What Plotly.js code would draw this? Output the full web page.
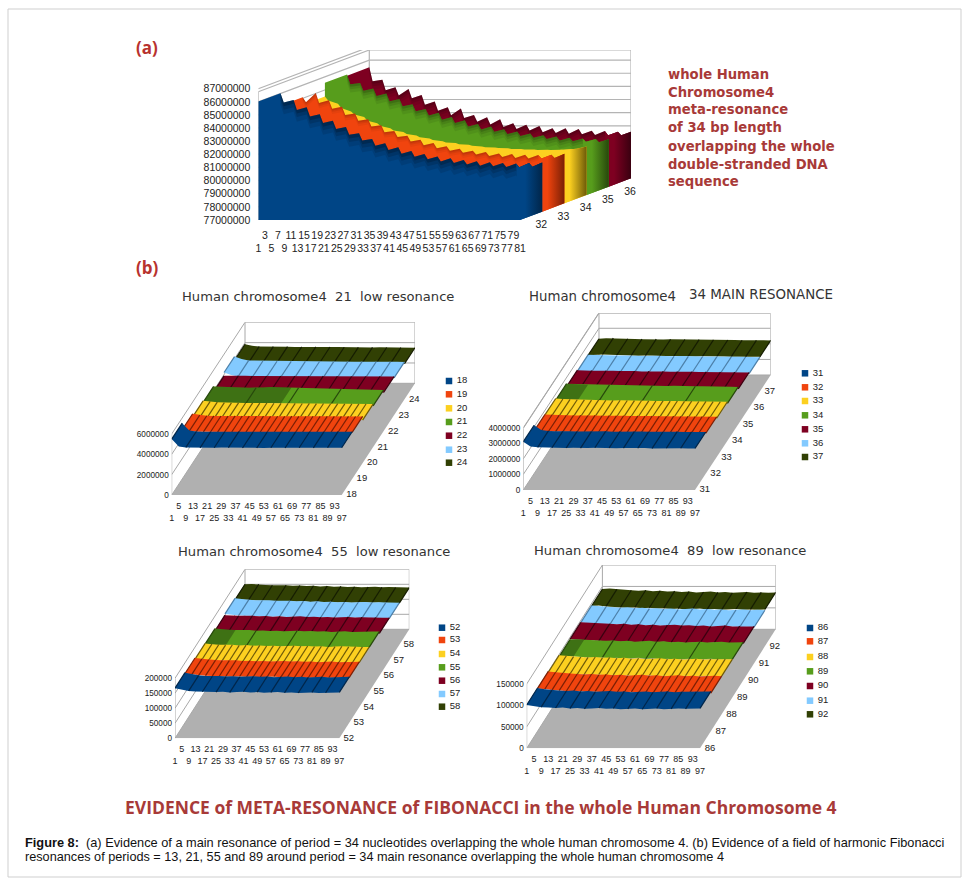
<!DOCTYPE html>
<html><head><meta charset="utf-8">
<script src="https://cdn.plot.ly/plotly-3.0.1.min.js"></script>
<style>html,body{margin:0;padding:0;background:#fff}#g{width:966px;height:882px}</style>
</head><body><div id="g"></div>
<script>
// ---------- DATA ----------
const categoriesA = [1,2,5,6,9,10,13,14,17,18,21,22,25,26,29,30,33,34,37,38,41,42,45,46,49,50,53,54,57,58,61,62,65,66,69,70,73,74,77,78,81];
const periodsA = [32,33,34,35,36];
const s32 = [86.02,85.31,85.5,84.75,84.95,84.25,84.42,83.75,83.93,83.3,83.45,82.85,82.97,82.42,82.54,82.02,82.21,81.7,81.9,81.42,81.62,81.18,81.4,81.0,81.2,80.82,81.07,80.7,80.94,80.6,80.84,80.5,80.76,80.45,80.7,80.4,80.66,80.38,80.7,80.42,80.74];
const s33 = [85.08,84.7,85.4,84.65,84.85,84.2,84.35,83.72,83.85,83.28,83.4,82.85,82.95,82.42,82.5,82.05,82.15,81.7,81.85,81.42,81.6,81.2,81.35,81.0,81.15,80.85,81.0,80.72,80.9,80.6,80.8,80.52,80.75,80.45,80.7,80.42,80.68,80.42,80.7,80.45,80.78];
const s34 = [84.5,84.2,83.94,83.62,83.36,83.12,82.93,82.66,82.47,82.25,82.09,81.92,81.79,81.64,81.53,81.4,81.3,81.18,81.1,81.0,80.95,80.86,80.82,80.74,80.7,80.64,80.62,80.57,80.55,80.5,80.5,80.46,80.47,80.43,80.45,80.42,80.45,80.44,80.5,80.52,80.7];
const s35 = [85.55,84.8,84.9,84.3,84.47,83.9,84.09,83.5,83.68,83.12,83.28,82.75,82.92,82.42,82.62,82.1,82.31,81.85,82.06,81.58,81.78,81.36,81.58,81.18,81.38,81.0,81.2,80.85,81.05,80.72,80.92,80.62,80.82,80.52,80.72,80.46,80.67,80.42,80.62,80.38,80.6];
const s36 = [85.45,84.4,84.5,83.7,83.94,83.3,83.81,83.1,83.35,82.6,82.84,82.15,82.41,81.8,82.31,81.6,81.83,81.3,81.65,81.1,81.5,80.9,81.2,80.75,81.07,80.65,80.99,80.5,80.81,80.45,80.81,80.4,80.76,80.35,80.63,80.3,80.6,80.28,80.55,80.28,80.55];
const ticksAupper = [3,7,11,15,19,23,27,31,35,39,43,47,51,55,59,63,67,71,75,79];
const ticksAlower = [1,5,9,13,17,21,25,29,33,37,41,45,49,53,57,61,65,69,73,77,81];
const yTicksA = [77,78,79,80,81,82,83,84,85,86,87];

const categoriesB = [1,5,9,13,17,21,25,29,33,37,41,45,49,53,57,61,65,69,73,77,81,85,89,93,97];
const ticksBupper = [5,13,21,29,37,45,53,61,69,77,85,93];
const ticksBlower = [1,9,17,25,33,41,49,57,65,73,81,89,97];

// Panel "21" (millions)
const p21names = [18,19,20,21,22,23,24];
const p18 = [5.5,4.78,4.68,4.66,4.64,4.66,4.65,4.67,4.66,4.64,4.62,4.6,4.62,4.63,4.65,4.64,4.62,4.64,4.65,4.66,4.64,4.65,4.66,4.65,4.65];
const p19 = [4.85,4.72,4.66,4.64,4.63,4.62,4.64,4.63,4.62,4.61,4.62,4.6,4.61,4.6,4.62,4.6,4.59,4.61,4.6,4.59,4.6,4.59,4.6,4.58,4.59];
const p20 = [4.55,4.5,4.42,4.38,4.36,4.35,4.34,4.35,4.33,4.34,4.32,4.31,4.3,4.31,4.29,4.3,4.28,4.29,4.27,4.28,4.26,4.25,4.26,4.24,4.23];
const p21 = [4.4,4.36,4.34,4.32,4.3,4.28,4.27,4.3,4.34,4.36,4.33,4.3,4.27,4.24,4.22,4.2,4.19,4.17,4.15,4.14,4.12,4.1,4.09,4.07,4.06];
const p22 = [3.87,3.88,3.87,3.88,3.86,3.87,3.86,3.85,3.86,3.84,3.85,3.86,3.84,3.83,3.84,3.82,3.83,3.82,3.81,3.82,3.81,3.8,3.81,3.8,3.8];
const p23 = [4.2,3.95,3.82,3.78,3.76,3.75,3.74,3.75,3.73,3.74,3.72,3.73,3.71,3.72,3.7,3.71,3.7,3.69,3.7,3.68,3.69,3.68,3.67,3.68,3.67];
const p24 = [3.84,3.7,3.62,3.6,3.61,3.59,3.6,3.58,3.59,3.57,3.58,3.56,3.57,3.56,3.55,3.56,3.54,3.55,3.53,3.54,3.52,3.53,3.51,3.52,3.5];
const p21ticks = [0,2,4,6];

// Panel "34" (millions)
const p34names = [31,32,33,34,35,36,37];
const p31 = [3.1,2.8,2.74,2.72,2.71,2.72,2.7,2.71,2.69,2.7,2.71,2.69,2.7,2.68,2.69,2.7,2.68,2.69,2.67,2.68,2.69,2.67,2.68,2.66,2.67];
const p32 = [2.74,2.72,2.7,2.69,2.68,2.69,2.67,2.68,2.66,2.67,2.65,2.66,2.64,2.65,2.63,2.64,2.63,2.62,2.63,2.61,2.62,2.6,2.61,2.59,2.59];
const p33 = [2.71,2.68,2.65,2.63,2.62,2.61,2.62,2.6,2.59,2.6,2.58,2.57,2.58,2.56,2.55,2.56,2.54,2.55,2.53,2.54,2.52,2.53,2.51,2.5,2.5];
const p34 = [2.61,2.58,2.56,2.54,2.53,2.52,2.53,2.51,2.5,2.51,2.49,2.48,2.49,2.47,2.46,2.47,2.45,2.46,2.44,2.45,2.43,2.42,2.43,2.41,2.4];
const p35 = [2.42,2.4,2.39,2.38,2.37,2.38,2.36,2.35,2.36,2.34,2.35,2.33,2.34,2.32,2.33,2.31,2.32,2.3,2.31,2.29,2.3,2.28,2.29,2.27,2.27];
const p36 = [2.36,2.34,2.32,2.31,2.3,2.31,2.29,2.3,2.28,2.29,2.27,2.28,2.26,2.27,2.25,2.26,2.24,2.25,2.23,2.24,2.22,2.23,2.21,2.22,2.2];
const p37 = [2.33,2.36,2.37,2.35,2.33,2.31,2.3,2.29,2.3,2.28,2.29,2.27,2.28,2.26,2.27,2.25,2.26,2.24,2.25,2.24,2.23,2.24,2.22,2.23,2.22];
const p34ticks = [0,1,2,3,4];

// Panel "55" (thousands)
const p55names = [52,53,54,55,56,57,58];
const p52 = [167,162,158,156,155,156,154,155,153,154,155,153,154,152,153,154,152,153,151,152,153,151,152,152,153];
const p53 = [164,161,158,157,156,155,156,154,155,153,154,152,153,154,152,153,151,152,150,151,152,150,151,150,151];
const p54 = [160,158,156,155,156,154,155,153,154,152,153,151,152,153,151,152,150,151,149,150,151,149,150,149,149];
const p55 = [158,156,154,153,152,153,151,152,150,151,149,150,151,149,150,148,149,147,148,149,147,148,147,148,148];
const p56 = [151,150,149,148,149,147,148,146,147,145,146,147,145,146,144,145,143,144,145,143,144,142,143,142,142];
const p57 = [155,152,150,149,148,149,147,146,147,145,146,144,145,143,144,142,143,141,142,143,141,142,140,141,140];
const p58 = [150,151,150,148,147,146,147,145,146,144,145,143,144,142,143,141,142,140,141,142,140,141,139,140,139];
const p55ticks = [0,50,100,150,200];

// Panel "89" (thousands)
const p89names = [86,87,88,89,90,91,92];
const p86 = [101,98,96,95,94,95,93,94,92,93,94,92,93,91,92,93,91,92,93,91,92,93,92,93,93];
const p87 = [100,98,96,95,94,93,94,92,93,91,92,90,91,92,90,91,89,90,91,89,90,88,89,90,89];
const p88 = [98,97,95,94,93,94,92,93,91,92,90,91,89,90,91,89,90,88,89,90,88,89,90,89,89];
const p89 = [95,96,95,94,93,92,93,91,92,90,91,92,90,91,89,90,88,89,90,88,89,90,88,89,89];
const p90 = [95.5,95,94,93,92,91,92,90,91,89,90,88,89,90,88,89,87,88,86,87,88,86,87,86,86];
const p91 = [95,94,92,91,90,91,89,90,88,89,87,88,86,87,88,86,87,85,86,84,85,86,84,85,84];
const p92 = [94,95,93,92,91,90,91,89,90,88,89,87,88,86,87,88,86,87,85,86,87,85,86,85,86];
const p89ticks = [0,50,100,150];

const palette = ['#004586','#f0440e','#fcd020','#579d1c','#7e0021','#83caff','#314004'];
const darkPalette = ['#01264a','#7a1f05','#6e5a08','#27480c','#3a0010','#4c7fa8','#161d02'];
const shadowScale = [1,0.45,0,0.7,0.7];

// ---------- HELPERS ----------
const W = 966, H = 882, FONT = 'Liberation Sans, Arial, sans-serif';
const traces = [], layout = {
  width:W, height:H, margin:{l:0,r:0,t:0,b:0}, paper_bgcolor:'#fff', plot_bgcolor:'rgba(0,0,0,0)',
  showlegend:false, hovermode:false, annotations:[], font:{family:FONT,color:'#222'},
  shapes:[{type:'rect',xref:'paper',yref:'paper',x0:8/W,x1:961/W,y0:1-877/H,y1:1-9/H,line:{color:'#cfcfcf',width:1},layer:'below'}]
};
const ramp = (c,d)=>({type:'horizontal',colorscale:[[0,c],[0.35,c],[1,d]]});

function makePanel(id,g){
  const n=g.depths, pxC=(g.frX-g.flX)/(g.cmax-g.cmin), pxV=(g.flY-g.tickPx)/(g.tickV-g.vmin);
  const p={sx:((g.brX-g.frX)/n)/pxC, sy:((g.flY-g.brY)/n)/pxV, g};
  const suffix=id===1?'':id; p.xa='x'+suffix; p.ya='y'+suffix;
  const rangeX=[g.cmin,g.cmax+n*p.sx], rangeY=[g.vmin,g.vmin+(g.flY-g.topPx)/pxV];
  layout['xaxis'+suffix]={domain:[g.flX/W,g.brX/W],range:rangeX,anchor:p.ya,showgrid:false,zeroline:false,showline:false,
    ticks:'',tickmode:'array',tickvals:g.xvals,ticktext:g.xtext,tickangle:0,tickfont:{size:g.xfont,color:'#222',family:FONT},ticklabelstandoff:g.xstand};
  layout['yaxis'+suffix]={domain:[1-g.flY/H,1-g.topPx/H],range:rangeY,anchor:p.xa,showgrid:false,zeroline:false,showline:false,
    ticks:'',tickmode:'array',tickvals:g.yvals,ticktext:g.ytext,tickfont:{size:g.yfont,color:'#222',family:FONT},ticklabelstandoff:g.ystand};
  p.X=(c,d)=>c+d*p.sx; p.Y=(v,d)=>v+d*p.sy;
  p.add=(t)=>traces.push(Object.assign({xaxis:p.xa,yaxis:p.ya,type:'scatter',mode:'lines',hoverinfo:'skip',cliponaxis:false},t));
  p.line=(pts,color,width)=>p.add({x:pts.map(q=>q[0]===null?null:p.X(q[0],q[2])),y:pts.map(q=>q[0]===null?null:p.Y(q[1],q[2])),line:{color,width:width||1}});
  p.poly=(pts,fill,extra)=>p.add(Object.assign({x:pts.map(q=>p.X(q[0],q[2])),y:pts.map(q=>p.Y(q[1],q[2])),fill:'toself',fillcolor:fill,line:{width:0}},extra||{}));
  return p;
}
function walls(p,gridColor,width){
  const g=p.g,n=g.depths,top=g.vmin+(g.flY-g.topPx)/((g.flY-g.tickPx)/(g.tickV-g.vmin))-n*p.sy;
  const seq=[];
  g.yvals.concat(g.yvals.indexOf(top)<0?[top]:[]).forEach(v=>{
    seq.push([g.cmin,v,0],[g.cmin,v,n],[g.cmax,v,n],[null,null,null]);
  });
  p.line(seq,gridColor,width);
  p.line([[g.cmin,g.vmin,n],[g.cmin,top,n],[null],[g.cmax,g.vmin,n],[g.cmax,top,n],[null],[g.cmin,g.vmin,0],[g.cmin,top,0]],gridColor,width);
}
function depthLabels(p,names,offC,pos,size){
  const g=p.g;
  p.add({mode:'text',x:names.map((_,j)=>p.X(g.cmax+offC,j)),y:names.map((_,j)=>p.Y(g.vmin,j)),text:names.map(String),
    textposition:pos,textfont:{size,color:'#222',family:FONT}});
}
function xticks(upper,lower){
  return {xvals:upper.concat(lower),xtext:upper.map(String).concat(lower.map(v=>'<br>'+v))};
}

// ---------- PANEL (a) ----------
(function(){
  const xt=xticks(ticksAupper,ticksAlower);
  const p=makePanel(1,Object.assign({depths:5,cmin:1,cmax:81,vmin:77e6,flX:258.3,flY:220,frX:520,brX:631,brY:178.3,topPx:50,tickPx:88.7,tickV:87e6,
    yvals:yTicksA.map(v=>v*1e6),ytext:yTicksA.map(v=>String(v*1e6)),xfont:10.5,yfont:10.5,xstand:7,ystand:7},xt));
  walls(p,'#b4b4b4',1.2);
  const series=[s32,s33,s34,s35,s36];
  for(let j=4;j>=0;j--){
    const vals=series[j].map(v=>v*1e6), d=j+1, c=categoriesA;
    const sil=vals.map((v,i)=>[c[i],v,d]);
    p.poly([[1,77e6,j],[1,vals[0],j]].concat(sil,[[81,77e6,d],[81,77e6,j]]),palette[j]);
    if(shadowScale[j]>0) [[0.9,0.10],[0.55,0.14],[0.28,0.2]].forEach(([dv,a])=>{
      const low=sil.slice().reverse().map(q=>[q[0],q[1]-dv*1e6*shadowScale[j],d]);
      p.poly(sil.concat(low),'rgba(0,0,0,'+a*shadowScale[j]+')');
    });
    const start=c.findIndex(x=>x>=73);
    p.poly([[81,77e6,j]].concat(sil.slice(start),[[81,77e6,d]]),palette[j],{fillgradient:ramp(palette[j],darkPalette[j])});
  }
  depthLabels(p,periodsA,6.5,'bottom center',10.5);
})();

// ---------- PANELS (b) ----------
function ribbons(id,g,names,rows,unit,ticks,stripeStep,shadeSamples,lx,ly){
  const xt=xticks(ticksBupper,ticksBlower);
  const p=makePanel(id,Object.assign({depths:7,cmin:1,cmax:97,vmin:0,yvals:ticks.map(v=>v*unit),ytext:ticks.map(v=>String(v*unit)),
    xfont:9,yfont:8.2,xstand:4,ystand:2},g,xt));
  const c=categoriesB;
  p.poly([[1,0,0],[97,0,0],[97,0,7],[1,0,7]],'#b0b0b0');
  walls(p,'#a8a8a8',1);
  for(let j=6;j>=0;j--){
    const v=rows[j].map(x=>x*unit);
    const low=v.map((y,i)=>[c[i],y,j]), up=v.map((y,i)=>[c[i],y,j+1]).reverse();
    p.poly(low.concat(up),palette[j]);
    if(j===3){
      const m=shadeSamples;
      p.poly(low.slice(0,m).concat(v.slice(0,m).map((y,i)=>[c[i],y,j+1]).reverse()),'rgba(0,0,0,0.28)');
    }
    const seq=[];
    v.forEach((y,i)=>{ if(i%stripeStep[j]===0) seq.push([c[i],y,j],[c[i],y,j+1],[null,null,null]); });
    p.line(seq,darkPalette[j],1.2);
  }
  depthLabels(p,names,5.5,'middle center',9.5);
  traces.push({xaxis:'x9',yaxis:'y9',type:'scatter',mode:'markers+text',hoverinfo:'skip',cliponaxis:false,
    x:names.map(()=>lx),y:ly,text:names.map(n=>' '+n),textposition:'middle right',
    marker:{symbol:'square',size:6.5,color:palette.slice(0,7)},textfont:{size:9.5,color:'#222',family:FONT}});
}
const stripes=[2,1,1,6,2,2,2];
ribbons(2,{flX:171.7,flY:495,frX:341.7,brX:415,brY:383.3,topPx:322.3,tickPx:434,tickV:6e6},p21names,[p18,p19,p20,p21,p22,p23,p24],1e6,p21ticks,stripes,12,449,[381,394.3,408.3,422,435.7,449.7,462.7]);
ribbons(3,{flX:523.3,flY:490,frX:695,brX:770.7,brY:375,topPx:313.3,tickPx:427.7,tickV:4e6},p34names,[p31,p32,p33,p34,p35,p36,p37],1e6,p34ticks,stripes,4,805,[373.3,387.3,401,415.3,429.3,443.3,457]);
ribbons(4,{flX:175,flY:738.3,frX:339.3,brX:409.3,brY:629.3,topPx:569.3,tickPx:678.3,tickV:2e5},p55names,[p52,p53,p54,p55,p56,p57,p58],1e3,p55ticks,stripes,4,442,[627.7,640,654,667.3,680.7,694,706.7]);
ribbons(5,{flX:526.7,flY:748.3,frX:700,brX:775.7,brY:629.3,topPx:565,tickPx:684,tickV:15e4},p89names,[p86,p87,p88,p89,p90,p91,p92],1e3,p89ticks,stripes,3,810,[628,641.3,657,671.3,686,700.7,714.3]);

layout.xaxis9={domain:[0,1],range:[0,W],visible:false,anchor:'y9'};
layout.yaxis9={domain:[0,1],range:[H,0],visible:false,anchor:'x9'};

// ---------- TEXT ----------
function note(text,x,y,size,color,family,anchor){
  layout.annotations.push({text,x:x/W,y:1-y/H,xref:'paper',yref:'paper',showarrow:false,xanchor:anchor||'left',yanchor:'middle',
    align:'left',borderpad:0,font:{size,color,family}});
}
const RED='#b8322e', DARKRED='#a83a38', OS='Open Sans, sans-serif', DV='DejaVu Sans, sans-serif';
note('<b>(a)</b>',135,48,17,RED,OS);
note('<b>(b)</b>',135,268,17,RED,OS);
['whole Human','Chromosome4','meta-resonance','of 34 bp length','overlapping the whole','double-stranded DNA','sequence'].forEach((t,i)=>note('<b>'+t+'</b>',667,74+i*18,13.2,DARKRED,DV));
note('Human chromosome4  21  low resonance',181,296,13.1,'#333',DV);
note('Human chromosome4',528,296,13.3,'#333',DV);
note('34 MAIN RESONANCE',688,294.5,13.4,'#333',DV);
note('Human chromosome4  55  low resonance',177,551,13.1,'#333',DV);
note('Human chromosome4  89  low resonance',533,550,13.1,'#333',DV);
note('<b>EVIDENCE of META-RESONANCE of FIBONACCI in the whole Human Chromosome 4</b>',124,807,17.5,DARKRED,OS);
note('<b>Figure 8:</b>  (a) Evidence of a main resonance of period = 34 nucleotides overlapping the whole human chromosome 4. (b) Evidence of a field of harmonic Fibonacci',24,842,12.78,'#111',FONT);
note('resonances of periods = 13, 21, 55 and 89 around period = 34 main resonance overlapping the whole human chromosome 4',24,857,12.7,'#111',FONT);

Plotly.newPlot('g',traces,layout,{staticPlot:true,displayModeBar:false});
</script></body></html>
